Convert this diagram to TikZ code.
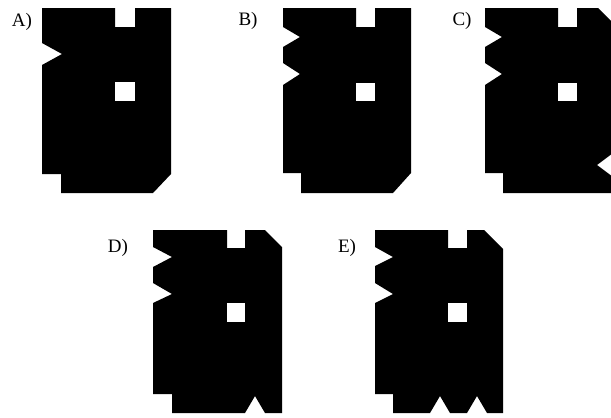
\documentclass[tikz,border=0pt]{standalone}
\usepackage{fontspec}
\setmainfont{Liberation Serif}
\begin{document}
\begin{tikzpicture}[x=1pt, y=-1pt, piece/.style = {fill=black}, gap/.style = {fill=white}, lbl/.style = {font=\fontsize{19}{21}\selectfont, inner sep=0pt}]

    \useasboundingbox (0, 0) rectangle (611, 418);
    \clip (0, 0) rectangle (611, 418);

    \node[lbl] (labA) at (22, 22) {A)};
    \node[lbl] (labB) at (248, 21) {B)};
    \node[lbl] (labC) at (462, 21) {C)};
    \node[lbl] (labD) at (118, 248) {D)};
    \node[lbl] (labE) at (347, 248) {E)};
    
    
    \fill[piece] (42, 8) -- (115, 8) -- (115, 27) -- (135, 27) -- (135, 8) -- (171, 8) -- (171, 174) -- (153, 193) -- (61, 193) -- (61, 174) -- (42, 174) -- (42, 65) -- (62, 54) -- (42, 43) -- cycle;
    \fill[gap] (115, 82) rectangle (135, 101);
    
    \fill[piece] (283, 8) -- (356, 8) -- (356, 27) -- (375, 27) -- (375, 8) -- (411, 8) -- (411, 173) -- (393, 193) -- (301, 193) -- (301, 173) -- (283, 173) -- (283, 85) -- (300, 74) -- (283, 63) -- (283, 47) -- (300, 37) -- (283, 27) -- cycle;
    \fill[gap] (356, 83) rectangle (375, 101);
    
    \fill[piece] (485, 8) -- (558, 8) -- (558, 27) -- (577, 27) -- (577, 8) -- (598, 8) -- (613, 23) -- (613, 153) -- (597, 165) -- (613, 177) -- (613, 193) -- (503, 193) -- (503, 173) -- (485, 173) -- (485, 85) -- (502, 74) -- (485, 63) -- (485, 47) -- (502, 37) -- (485, 27) -- cycle;
    \fill[gap] (558, 83) rectangle (577, 101);
    
    \fill[piece] (153, 230) -- (227, 230) -- (227, 248) -- (245, 248) -- (245, 230) -- (265, 230) -- (282, 247) -- (282, 413) -- (265, 413) -- (255, 396) -- (245, 413) -- (172, 413) -- (172, 394) -- (153, 394) -- (153, 303) -- (172, 294) -- (153, 283) -- (153, 267) -- (172, 257) -- (153, 247) -- cycle;
    \fill[gap] (227, 303) rectangle (245, 322);
    
    \fill[piece] (375, 230) -- (448, 230) -- (448, 248) -- (467, 248) -- (467, 230) -- (484, 230) -- (503, 249) -- (503, 413) -- (487, 413) -- (477, 396) -- (467, 413) -- (450, 413) -- (440, 396) -- (430, 413) -- (393, 413) -- (393, 394) -- (375, 394) -- (375, 303) -- (393, 294) -- (375, 283) -- (375, 266) -- (393, 257) -- (375, 247) -- cycle;
    \fill[gap] (448, 303) rectangle (467, 322);
    
\end{tikzpicture}
\end{document}
